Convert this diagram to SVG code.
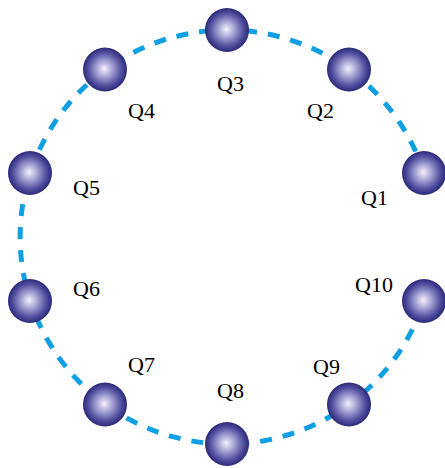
<svg xmlns="http://www.w3.org/2000/svg" width="445" height="468" viewBox="0 0 445 468">
<style>
.ring{fill:none;stroke:#119fe3;stroke-width:5;stroke-dasharray:12 11}
.ball{fill:url(#g)}
text{font-family:"Liberation Serif","Times New Roman",serif;font-size:22px;fill:#000}
</style>
<defs>
<radialGradient id="g" cx="0.5" cy="0.5" r="0.5" fx="0.48" fy="0.48">
<stop offset="0" stop-color="#f4f2fc"/>
<stop offset="0.35" stop-color="#a9a6d6"/>
<stop offset="0.75" stop-color="#5350a0"/>
<stop offset="1" stop-color="#2a2878"/>
</radialGradient>
</defs>
<g id="connectors">
<path class="ring" d="M 424 173 A 207 207 0 1 0 424 301"/>
</g>
<g id="Q1"><circle class="ball" cx="424" cy="173" r="22"/><text x="361" y="205">Q1</text></g>
<g id="Q2"><circle class="ball" cx="349" cy="69.5" r="22"/><text x="307" y="118">Q2</text></g>
<g id="Q3"><circle class="ball" cx="227" cy="30" r="22"/><text x="217" y="91">Q3</text></g>
<g id="Q4"><circle class="ball" cx="105" cy="69.5" r="22"/><text x="128" y="118">Q4</text></g>
<g id="Q5"><circle class="ball" cx="30" cy="173" r="22"/><text x="73" y="195">Q5</text></g>
<g id="Q6"><circle class="ball" cx="30" cy="301" r="22"/><text x="73" y="296">Q6</text></g>
<g id="Q7"><circle class="ball" cx="105" cy="404.5" r="22"/><text x="128" y="372">Q7</text></g>
<g id="Q8"><circle class="ball" cx="227" cy="444" r="22"/><text x="217" y="398">Q8</text></g>
<g id="Q9"><circle class="ball" cx="349" cy="404.5" r="22"/><text x="313" y="374">Q9</text></g>
<g id="Q10"><circle class="ball" cx="424" cy="301" r="22"/><text x="355" y="292">Q10</text></g>
</svg>
